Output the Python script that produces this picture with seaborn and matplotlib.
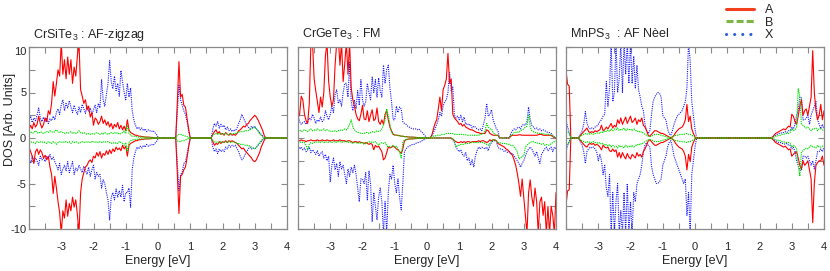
import numpy as np
import matplotlib
matplotlib.use('Agg')
import matplotlib.pyplot as plt
import seaborn as sns
from matplotlib.lines import Line2D

# energy grid (eV), 0.05 eV steps; each row below covers 1 eV (20 points), plus the last point at 4 eV
energy = np.linspace(-4, 4, 161)

panel_titles = ['CrSiTe$_3$ : AF-zigzag', 'CrGeTe$_3$ : FM', 'MnPS$_3$  : AF Nèel']
series_names = ['A', 'B', 'X']

xtick_pos = [-4, -3.5, -3, -2.5, -2, -1.5, -1, -0.5, 0, 0.5, 1, 1.5, 2, 2.5, 3, 3.5, 4]
xtick_lab = ['', '', '-3', '', '-2', '', '-1', '', '0', '', '1', '', '2', '', '3', '', '4']
ytick_pos = [-10, -7.5, -5, -2.5, 0, 2.5, 5, 7.5, 10]
ytick_lab = ['-10', '', '-5', '', '0', '', '5', '', '10']

# ---- CrSiTe3 ----
a1_up = [
    [0.9, 1.4, 1.0, 1.7, 1.2, 1.5, 2.4, 1.6, 1.1, 1.5, 2.2, 1.8, 3.0, 2.6, 3.8, 6.2, 4.6, 6.0, 7.5, 6.8],
    [10.5, 7.0, 8.6, 6.5, 8.9, 7.0, 8.6, 6.0, 7.8, 6.8, 9.0, 10.5, 5.3, 4.6, 3.8, 4.2, 3.1, 3.5, 2.3, 2.8],
    [1.4, 2.2, 2.0, 1.5, 1.8, 2.4, 1.6, 2.0, 1.4, 1.8, 1.2, 1.6, 1.0, 1.5, 1.2, 1.7, 1.0, 1.4, 0.9, 1.3],
    [0.8, 2.0, 0.9, 0.6, 0.5, 0.4, 0.3, 0.3, 0.2, 0.2, 0.15, 0.15, 0.1, 0.1, 0.1, 0.08, 0.06, 0.05, 0.04, 0.02],
    [0] * 12 + [4.0, 8.4, 4.5, 4.8, 3.6, 3.4, 2.2, 1.0],
    [0] * 14 + [0.4, 0.7, 0.9, 0.5, 0.7, 0.4],
    [0.5, 0.3, 0.6, 0.4, 0.3, 0.5, 0.3, 0.4, 0.3, 0.5, 0.8, 0.9, 1.1, 1.3, 1.2, 1.5, 1.6, 1.9, 2.1, 2.3],
    [2.5, 2.3, 2.0, 1.6, 1.2, 0.8, 0.2] + [0] * 13,
    [0],
]
a1_dn = [
    [-1.0, -1.5, -2.0, -2.8, -1.5, -1.2, -1.8, -1.3, -1.6, -2.2, -1.9, -2.4, -2.0, -3.2, -4.0, -6.1, -4.2, -5.5, -7.0, -8.2],
    [-10.5, -8.0, -8.8, -6.8, -8.6, -7.2, -8.0, -6.5, -7.6, -6.8, -8.4, -10.5, -6.0, -4.5, -3.8, -3.2, -3.0, -2.6, -2.4, -2.7],
    [-2.0, -2.2, -1.6, -2.0, -1.5, -2.2, -1.7, -1.9, -1.4, -1.8, -1.3, -1.7, -1.2, -1.5, -1.0, -1.3, -1.1, -1.4, -0.8, -1.2],
    [-0.9, -2.0, -0.8, -0.6, -0.5, -0.4, -0.3, -0.3, -0.2, -0.2, -0.15, -0.15, -0.1, -0.1, -0.1, -0.08, -0.06, -0.05, -0.04, -0.02],
    [0] * 12 + [-4.0, -8.3, -4.2, -4.0, -3.5, -3.2, -2.2, -1.0],
    [0] * 14 + [-0.4, -0.8, -0.6, -0.7, -0.4, -0.6],
    [-0.4, -0.5, -0.3, -0.5, -0.3, -0.4, -0.3, -0.4, -0.5, -0.6, -0.8, -1.0, -1.2, -1.1, -1.4, -1.6, -1.8, -2.0, -2.2, -2.5],
    [-2.6, -2.4, -2.0, -1.6, -1.0, -0.6, -0.2] + [0] * 13,
    [0],
]
b1_up = [
    [0.6, 0.7, 0.5, 0.6, 0.8, 0.6, 0.5, 0.7, 0.6, 0.5, 0.6, 0.7, 0.6, 0.8, 0.7, 0.6, 0.7, 0.9, 0.7, 0.6],
    [0.7, 0.6, 0.5, 0.6, 0.5, 0.6, 0.7, 0.5, 0.6, 0.5, 0.6, 0.8, 0.6, 0.5, 0.6, 0.5, 0.4, 0.5, 0.4, 0.5],
    [0.4, 0.5, 0.6, 0.5, 0.4, 0.5, 0.4, 0.6, 0.5, 0.4, 0.5, 0.6, 0.5, 0.6, 0.5, 0.6, 0.4, 0.5, 0.6, 0.8],
    [0.5, 1.4, 0.5, 0.3, 0.2, 0.2, 0.15, 0.15, 0.1, 0.1, 0.1, 0.1, 0.08, 0.08, 0.06, 0.06, 0.05, 0.04, 0.03, 0.02],
    [0] * 12 + [0.3, 0.4, 0.4, 0.3, 0.3, 0.2, 0.15, 0.05],
    [0] * 14 + [0.3, 0.4, 0.5, 0.4, 0.5, 0.4],
    [0.5, 0.4, 0.5, 0.4, 0.4, 0.5, 0.4, 0.5, 0.5, 0.6, 0.6, 0.7, 0.7, 0.7, 0.8, 0.8, 0.8, 0.9, 1.0, 1.1],
    [1.2, 1.0, 0.8, 0.5, 0.3, 0.1, 0.05] + [0] * 13,
    [0],
]
b1_dn = [
    [-0.4, -0.5, -0.4, -0.5, -0.6, -0.4, -0.5, -0.4, -0.5, -0.4, -0.5, -0.6, -0.4, -0.5, -0.6, -0.4, -0.5, -0.7, -0.5, -0.4],
    [-0.5, -0.4, -0.5, -0.4, -0.5, -0.4, -0.6, -0.4, -0.5, -0.4, -0.5, -0.6, -0.5, -0.4, -0.5, -0.4, -0.5, -0.4, -0.5, -0.4],
    [-0.4, -0.5, -0.4, -0.5, -0.4, -0.5, -0.4, -0.5, -0.4, -0.4, -0.5, -0.6, -0.5, -0.6, -0.5, -0.6, -0.4, -0.5, -0.6, -0.8],
    [-0.5, -1.5, -0.5, -0.3, -0.2, -0.2, -0.15, -0.15, -0.1, -0.1, -0.1, -0.1, -0.08, -0.08, -0.06, -0.06, -0.05, -0.04, -0.03, -0.02],
    [0] * 12 + [-0.3, -0.4, -0.4, -0.3, -0.3, -0.2, -0.15, -0.05],
    [0] * 14 + [-0.3, -0.4, -0.5, -0.4, -0.5, -0.4],
    [-0.5, -0.4, -0.5, -0.4, -0.4, -0.5, -0.4, -0.5, -0.5, -0.6, -0.6, -0.7, -0.7, -0.7, -0.8, -0.8, -0.8, -0.9, -1.0, -1.1],
    [-1.2, -1.0, -0.8, -0.5, -0.3, -0.1, -0.05] + [0] * 13,
    [0],
]
x1_up = [
    [2.0, 2.4, 1.7, 2.2, 1.9, 2.5, 3.3, 2.2, 1.8, 2.3, 1.8, 2.2, 1.6, 2.1, 1.9, 2.4, 2.0, 2.8, 3.2, 2.6],
    [3.6, 4.2, 3.0, 3.8, 3.3, 4.1, 3.4, 2.8, 3.6, 3.0, 2.6, 3.4, 2.8, 3.7, 3.2, 2.7, 3.5, 2.9, 3.3, 2.6],
    [3.1, 3.6, 2.8, 3.8, 3.3, 6.4, 4.2, 3.5, 4.8, 6.0, 8.5, 6.2, 5.4, 6.8, 5.2, 6.0, 4.6, 7.4, 6.2, 5.0],
    [4.2, 6.0, 4.5, 5.5, 3.0, 2.0, 1.4, 1.0, 1.2, 0.9, 1.1, 0.8, 1.0, 0.7, 0.9, 0.8, 0.7, 0.8, 0.6, 0.4],
    [0.1] + [0] * 11 + [3.0, 5.8, 4.2, 3.6, 3.0, 2.6, 1.8, 0.8],
    [0] * 14 + [1.0, 1.6, 1.3, 1.8, 1.1, 1.5],
    [1.2, 1.4, 0.9, 1.2, 0.8, 1.0, 0.7, 0.9, 0.8, 1.1, 1.6, 2.0, 2.6, 2.2, 1.8, 1.4, 1.2, 1.0, 1.3, 1.1],
    [1.3, 1.0, 0.8, 0.6, 0.4, 0.2, 0.05] + [0] * 13,
    [0],
]
x1_dn = [
    [-2.4, -2.8, -2.0, -2.6, -2.2, -2.5, -3.0, -2.0, -2.4, -2.2, -2.6, -2.0, -2.3, -1.8, -2.4, -2.1, -2.6, -3.0, -3.5, -2.8],
    [-4.0, -3.4, -3.0, -3.6, -2.6, -3.8, -3.2, -2.6, -4.0, -3.3, -3.6, -3.0, -3.4, -3.8, -3.1, -3.6, -4.0, -3.2, -4.2, -3.5],
    [-3.0, -4.5, -3.8, -4.2, -4.0, -5.5, -4.6, -5.0, -6.0, -6.8, -9.0, -6.5, -6.0, -6.8, -5.6, -6.5, -5.8, -6.5, -5.2, -7.0],
    [-6.0, -6.0, -5.5, -7.6, -3.5, -2.2, -1.5, -1.0, -1.2, -0.9, -1.1, -0.8, -1.0, -0.7, -0.9, -0.8, -0.7, -0.8, -0.6, -0.4],
    [-0.1] + [0] * 11 + [-3.0, -5.8, -4.0, -3.8, -2.8, -2.6, -1.8, -0.8],
    [0] * 14 + [-1.0, -1.5, -1.2, -1.7, -1.2, -1.5],
    [-1.3, -1.5, -1.0, -1.2, -0.8, -1.0, -0.8, -0.9, -0.8, -1.2, -1.5, -2.0, -2.4, -2.2, -1.8, -1.5, -1.2, -1.0, -1.2, -1.1],
    [-1.2, -1.0, -0.8, -0.6, -0.4, -0.2, -0.05] + [0] * 13,
    [0],
]

# ---- CrGeTe3 ----
a2_up = [
    [2.2, 2.6, 4.6, 4.2, 2.6, 1.9, 1.6, 3.8, 10.5, 10.5, 6.5, 5.2, 4.0, 2.8, 4.5, 3.4, 5.0, 9.0, 10.5, 6.2],
    [4.5, 3.5, 4.2, 8.0, 10.5, 11.0, 8.0, 10.5, 6.2, 8.2, 10.5, 7.0, 10.5, 5.5, 4.2, 3.5, 2.6, 2.1, 1.9, 2.6],
    [3.6, 2.1, 2.0, 3.0, 1.8, 2.5, 3.1, 1.9, 2.1, 3.3, 1.8, 1.5, 2.0, 1.5, 2.6, 3.0, 2.0, 1.2, 0.8, 0.4],
    [0.35, 0.3, 0.3, 0.25, 0.2, 0.2, 0.15, 0.15, 0.12, 0.1, 0.1, 0.1, 0.08, 0.06, 0.05, 0.05, 0.04, 0.03, 0.02, 0.01],
    [0, 0, 0, 0.3, 1.0, 1.6, 2.0, 3.2, 4.5, 3.0, 5.3, 5.8, 6.5, 9.3, 6.0, 6.5, 2.6, 2.2, 2.0, 1.8],
    [1.5, 1.6, 1.3, 1.5, 1.2, 1.1, 1.0, 0.9, 0.9, 0.8, 0.7, 0.6, 0.6, 0.5, 0.5, 0.5, 0.5, 0.9, 0.8, 0.5],
    [0.4, 0.3, 0.3, 0.3, 0.3, 0, 0, 0, 0, 0, 0, 0, 0.2, 0.3, 0.3, 0.3, 0.3, 0.35, 0.35, 0.3],
    [0.3, 0.3, 0.3, 0.3, 0.3, 0.3, 0.3, 0.3, 0.3, 0.35, 0.4, 0.4, 0.3, 0.3, 0.3, 0.3, 0.3, 0.3, 0.15, 0.05],
    [0],
]
a2_dn = [
    [-0.3, -0.3, -0.2, -0.3, -0.3, -0.4, -0.3, -0.3, -0.2, -0.3, -0.3, -0.3, -0.2, -0.3, -0.3, -0.2, -0.3, -0.3, -0.2, -0.3],
    [-0.3, -0.3, -0.2, -0.3, -0.3, -0.3, -0.2, -0.3, -0.3, -0.3, -0.4, -0.3, -0.3, -0.4, -0.5, -0.4, -0.4, -0.5, -0.4, -0.5],
    [-0.5, -0.6, -0.5, -0.6, -0.7, -0.6, -0.7, -1.3, -0.8, -1.0, -0.9, -1.2, -1.5, -2.4, -2.2, -1.6, -1.0, -1.1, -1.0, -0.9],
    [-1.0, -1.2, -1.3, -1.5, -1.7, -1.2, -0.3, -0.2, -0.15, -0.1, -0.1, -0.1, -0.08, -0.06, -0.05, -0.04, -0.03, -0.02, -0.01, 0],
    [0] * 16 + [-0.1, -0.3, -0.4, -0.5],
    [-0.5, -0.4, -0.5, -0.4, -0.5, -0.4, -0.4, -0.5, -0.4, -0.4, -0.4, -0.4, -0.3, -0.4, -0.3, -0.3, -0.4, -0.5, -0.4, -0.2],
    [-0.3, -0.2, -0.2, -0.3, -0.6, -0.7, -0.8, -0.9, -1.0, -1.2, -1.3, -1.5, -1.7, -1.9, -2.4, -3.0, -3.9, -5.0, -6.4, -4.5],
    [-6.5, -8.5, -10.5, -6.0, -4.6, -6.5, -7.5, -5.5, -7.0, -10.5, -7.0, -6.5, -8.5, -7.0, -10.5, -7.5, -10.5, -7.5, -8.5, -10.5],
    [-6.0],
]
b2_up = [
    [0.8, 0.9, 0.7, 0.8, 0.9, 0.8, 0.7, 0.9, 1.0, 0.8, 0.9, 0.8, 1.0, 0.9, 0.8, 0.9, 1.0, 0.8, 0.9, 0.8],
    [0.7, 0.8, 0.7, 0.8, 0.7, 0.8, 0.9, 0.8, 0.9, 1.0, 0.9, 1.1, 1.5, 2.0, 1.2, 0.9, 0.7, 0.6, 0.6, 0.5],
    [0.5, 0.5, 0.6, 0.6, 0.5, 0.6, 0.7, 0.6, 0.7, 0.8, 0.7, 0.8, 1.0, 1.4, 2.0, 3.2, 2.4, 1.5, 0.6, 0.4],
    [0.3, 0.3, 0.25, 0.25, 0.2, 0.2, 0.15, 0.15, 0.12, 0.1, 0.1, 0.1, 0.08, 0.06, 0.05, 0.05, 0.04, 0.03, 0.02, 0.01],
    [0, 0, 0, 0.1, 0.2, 0.2, 0.3, 0.3, 0.3, 0.4, 0.4, 0.4, 0.5, 0.5, 0.5, 0.5, 0.5, 0.4, 0.4, 0.4],
    [0.4, 0.4, 0.4, 0.35, 0.35, 0.3, 0.3, 0.3, 0.3, 0.3, 0.3, 0.3, 0.3, 0.4, 0.4, 0.5, 0.8, 1.6, 1.2, 1.0],
    [1.0, 0.6, 0.4, 0.3, 0.3, 0, 0, 0, 0, 0, 0, 0, 0.3, 0.4, 0.6, 0.6, 0.7, 0.6, 0.8, 0.9],
    [1.0, 1.2, 1.3, 2.6, 1.2, 0.8, 0.7, 0.6, 0.6, 0.5, 0.5, 0.5, 0.5, 0.4, 0.4, 0.4, 0.4, 0.3, 0.2, 0.1],
    [0],
]
b2_dn = [
    [-0.4, -0.5, -0.4, -0.5, -0.5, -0.8, -1.3, -0.7, -0.5, -0.6, -0.5, -0.4, -0.5, -0.4, -0.5, -0.4, -0.5, -0.5, -0.4, -0.5],
    [-0.4, -0.5, -0.4, -0.4, -0.5, -0.4, -0.4, -0.5, -0.4, -0.4, -0.4, -0.5, -0.4, -0.5, -0.6, -0.5, -0.5, -0.6, -0.5, -0.6],
    [-0.5, -0.7, -0.6, -0.5, -0.4, -0.5, -0.4, -0.5, -0.4, -0.6, -0.8, -0.6, -0.5, -0.6, -0.5, -0.8, -1.0, -0.9, -1.0, -0.8],
    [-1.0, -0.9, -1.2, -1.5, -2.2, -0.5, -0.2, -0.15, -0.12, -0.1, -0.1, -0.08, -0.06, -0.05, -0.05, -0.04, -0.03, -0.02, -0.01, 0],
    [0] * 16 + [-0.1, -0.3, -1.0, -0.8],
    [-0.8, -0.7, -0.7, -0.7, -0.6, -0.6, -0.6, -0.5, -0.5, -0.5, -0.5, -0.5, -0.5, -0.5, -0.5, -0.5, -0.6, -0.7, -0.8, -0.6],
    [-0.3, -0.2, -0.2, -0.3, -0.5, -0.5, -0.6, -0.6, -0.6, -0.6, -0.7, -0.7, -0.8, -0.8, -1.0, -1.2, -1.5, -2.3, -2.2, -2.0],
    [-2.0, -1.0, -0.8, -0.6, -0.5, -0.4, -0.4, -0.5, -0.5, -0.6, -0.6, -0.7, -0.6, -0.8, -0.7, -0.8, -0.8, -0.6, -0.5, -0.4],
    [-0.3],
]
x2_up = [
    [2.5, 1.8, 1.5, 1.7, 1.8, 1.5, 1.8, 2.2, 2.0, 2.6, 2.2, 1.6, 2.0, 1.8, 2.3, 1.8, 2.0, 3.0, 2.4, 2.0],
    [2.6, 3.5, 2.8, 4.8, 5.3, 3.8, 4.2, 3.5, 5.0, 6.0, 6.0, 4.5, 8.4, 4.0, 3.0, 4.2, 3.2, 5.2, 3.6, 6.4],
    [4.2, 3.5, 4.0, 6.0, 5.0, 4.2, 6.7, 5.0, 6.4, 4.5, 6.6, 5.2, 4.5, 8.0, 6.0, 7.5, 8.0, 5.5, 4.0, 2.0],
    [2.0, 3.5, 2.8, 3.4, 3.2, 1.8, 1.6, 1.5, 1.3, 1.2, 1.1, 1.0, 1.0, 1.0, 0.9, 1.0, 0.8, 0.6, 0.4, 0.2],
    [0, 0, 0, 0.3, 0.6, 1.0, 1.5, 2.0, 2.8, 2.4, 3.5, 4.0, 4.2, 5.0, 7.2, 5.2, 5.6, 2.5, 2.2, 2.4],
    [2.0, 2.5, 1.8, 2.3, 1.5, 1.6, 1.4, 1.5, 1.1, 1.3, 1.2, 1.0, 0.9, 1.0, 0.8, 1.5, 2.2, 3.8, 2.4, 2.6],
    [3.1, 2.0, 1.5, 1.0, 0.8, 0, 0, 0, 0, 0, 0, 0, 0.5, 0.8, 1.0, 0.9, 1.1, 1.2, 1.0, 1.4],
    [1.5, 1.4, 1.8, 3.4, 2.0, 1.4, 1.2, 1.0, 1.1, 0.9, 1.0, 0.8, 0.9, 0.8, 0.7, 0.6, 0.6, 0.5, 0.3, 0.1],
    [0],
]
x2_dn = [
    [-0.8, -1.2, -1.0, -1.3, -1.1, -1.5, -1.3, -1.0, -1.6, -1.3, -1.5, -1.8, -1.4, -2.0, -1.7, -1.5, -2.2, -1.8, -2.5, -2.0],
    [-4.8, -3.0, -2.2, -3.5, -2.8, -4.2, -2.6, -3.4, -3.0, -4.0, -5.0, -3.4, -4.2, -3.2, -3.8, -3.0, -4.0, -5.5, -7.0, -4.5],
    [-4.5, -5.0, -3.8, -6.8, -3.6, -5.0, -9.2, -6.0, -7.5, -9.0, -6.5, -5.5, -7.0, -10.5, -7.0, -10.5, -6.0, -4.0, -4.5, -3.0],
    [-5.0, -6.0, -4.5, -6.5, -7.9, -5.0, -1.5, -1.2, -1.0, -0.9, -0.8, -0.7, -0.7, -0.6, -0.5, -0.5, -0.4, -0.3, -0.2, -0.1],
    [0] * 16 + [-0.2, -0.5, -1.0, -1.3],
    [-1.5, -1.3, -1.8, -2.0, -1.6, -2.5, -2.2, -3.0, -2.4, -3.2, -2.0, -1.4, -1.0, -1.2, -1.0, -1.1, -1.2, -1.0, -1.4, -0.8],
    [-0.5, -0.3, -0.3, -0.4, -1.0, -1.2, -1.2, -1.3, -1.5, -1.4, -1.6, -1.5, -1.8, -1.7, -2.0, -2.2, -2.5, -2.8, -3.2, -2.8],
    [-2.5, -2.0, -1.5, -1.2, -1.0, -1.2, -1.6, -2.0, -1.5, -2.2, -2.8, -1.8, -1.5, -1.2, -1.0, -1.4, -1.2, -1.0, -1.5, -1.0],
    [-1.2],
]

# ---- MnPS3 ----
a3_up = [
    [7.4, 5.9, 5.7, 0, 0, 0, 0, 0, 0.05, 0.3, 0.5, 0.7, 0.9, 1.1, 0.7, 0.6, 0.7, 0.6, 0.8, 0.7],
    [0.8, 0.9, 1.4, 0.8, 0.9, 1.2, 1.0, 1.3, 1.6, 1.1, 1.4, 1.2, 2.0, 1.6, 2.2, 1.5, 1.9, 2.3, 1.6, 2.0],
    [2.4, 1.7, 1.9, 2.2, 1.5, 2.0, 1.8, 2.2, 1.4, 1.2, 0.8, 0.3, 0.2, 0.4, 0.6, 0.8, 0.8, 0.7, 0.6, 0.5],
    [0.5, 0.4, 0.3, 0.2, 0.1, 0.05, 0.1, 0.3, 0.6, 0.8, 1.0, 1.1, 1.2, 1.5, 2.0, 3.7, 1.8, 2.4, 1.0, 0.5],
    [0.1] + [0] * 19,
    [0] * 20,
    [0] * 8 + [0.1, 0.3, 0.5, 0.6, 0.7, 0.8, 0.9, 1.0, 0.9, 1.1, 1.3, 1.2],
    [2.6, 2.4, 1.8, 1.5, 2.4, 3.5, 4.2, 2.5, 3.0, 3.2, 2.5, 3.5, 4.5, 9.6, 5.0, 3.0, 2.0, 2.5, 3.7, 2.0],
    [3.0],
]
a3_dn = [
    [-7.4, -5.8, -5.7, 0, 0, 0, 0, 0, -0.05, -0.3, -0.5, -0.7, -0.9, -1.0, -0.7, -0.6, -0.7, -0.6, -0.8, -0.7],
    [-0.8, -1.0, -1.3, -0.8, -1.0, -1.1, -1.0, -1.4, -1.5, -1.2, -1.5, -1.3, -2.1, -1.6, -2.2, -1.6, -2.0, -2.3, -1.7, -2.1],
    [-2.3, -1.8, -2.0, -2.2, -1.6, -2.0, -1.8, -2.1, -1.5, -1.2, -0.8, -0.3, -0.2, -0.4, -0.6, -0.8, -0.8, -0.7, -0.6, -0.5],
    [-0.5, -0.4, -0.3, -0.2, -0.1, -0.05, -0.1, -0.3, -0.6, -0.8, -1.0, -1.1, -1.2, -1.5, -2.0, -3.5, -1.8, -2.6, -1.0, -0.5],
    [-0.1] + [0] * 19,
    [0] * 20,
    [0] * 8 + [-0.1, -0.3, -0.5, -0.6, -0.7, -0.8, -0.9, -1.0, -0.9, -1.1, -1.3, -1.2],
    [-2.0, -1.8, -1.6, -1.5, -2.2, -3.0, -3.4, -2.5, -3.0, -2.8, -2.5, -3.5, -4.5, -9.3, -5.0, -3.0, -2.7, -2.5, -2.5, -2.0],
    [-3.0],
]
b3_up = [
    [0.8, 0.7, 0.5, 0, 0, 0, 0, 0, 0.05, 0.2, 0.3, 0.4, 0.5, 0.4, 0.5, 0.4, 0.5, 0.4, 0.5, 0.5],
    [0.6, 0.5, 0.7, 0.6, 0.8, 0.7, 0.9, 0.7, 1.0, 0.8, 1.0, 0.9, 1.1, 0.8, 1.0, 0.9, 1.1, 0.8, 1.0, 0.9],
    [1.0, 0.8, 1.0, 0.9, 0.7, 0.8, 0.6, 0.7, 0.5, 0.4, 0.3, 0.2, 0.15, 0.2, 0.3, 0.4, 0.4, 0.4, 0.35, 0.3],
    [0.25, 0.2, 0.15, 0.1, 0.05, 0.05, 0.1, 0.2, 0.3, 0.3, 0.35, 0.4, 0.4, 0.4, 0.45, 0.5, 0.4, 0.4, 0.3, 0.2],
    [0.05] + [0] * 19,
    [0] * 20,
    [0] * 8 + [0.05, 0.1, 0.2, 0.2, 0.3, 0.3, 0.4, 0.4, 0.5, 0.5, 0.5, 0.6],
    [1.0, 0.8, 0.9, 1.2, 5.4, 4.6, 1.5, 1.4, 1.2, 1.1, 1.2, 1.0, 0.8, 1.0, 1.0, 1.1, 0.8, 1.0, 1.0, 0.9],
    [0.8],
]
b3_dn = [
    [-0.8, -0.7, -0.5, 0, 0, 0, 0, 0, -0.05, -0.2, -0.3, -0.4, -0.5, -0.4, -0.5, -0.4, -0.5, -0.4, -0.5, -0.5],
    [-0.6, -0.5, -0.7, -0.6, -0.8, -0.7, -0.9, -0.7, -1.0, -0.8, -1.0, -0.9, -1.1, -0.8, -1.0, -0.9, -1.1, -0.8, -1.0, -0.9],
    [-1.0, -0.8, -1.0, -0.9, -0.7, -0.8, -0.6, -0.7, -0.5, -0.4, -0.3, -0.2, -0.15, -0.2, -0.3, -0.4, -0.4, -0.4, -0.35, -0.3],
    [-0.25, -0.2, -0.15, -0.1, -0.05, -0.05, -0.1, -0.2, -0.3, -0.3, -0.35, -0.4, -0.4, -0.4, -0.45, -0.5, -0.4, -0.4, -0.3, -0.2],
    [-0.05] + [0] * 19,
    [0] * 20,
    [0] * 8 + [-0.05, -0.1, -0.2, -0.2, -0.3, -0.3, -0.4, -0.4, -0.5, -0.5, -0.5, -0.6],
    [-1.0, -0.8, -0.9, -1.2, -3.0, -4.2, -1.5, -1.4, -1.2, -1.1, -1.2, -1.0, -0.8, -1.0, -1.0, -1.1, -0.8, -1.0, -1.0, -0.9],
    [-0.8],
]
x3_up = [
    [2.0, 1.2, 0.6, 0, 0, 0, 0, 0, 0.1, 0.4, 0.8, 1.5, 2.9, 1.6, 1.2, 1.0, 1.1, 1.0, 1.2, 1.3],
    [1.5, 1.8, 2.0, 2.4, 2.6, 6.2, 3.5, 5.5, 10.5, 4.0, 5.0, 10.5, 5.0, 6.5, 10.5, 5.0, 10.5, 7.0, 10.5, 6.0],
    [10.5, 6.0, 9.0, 5.5, 8.0, 5.3, 4.5, 3.5, 3.0, 1.5, 0.8, 0.5, 0.8, 2.5, 4.0, 4.5, 4.8, 5.0, 4.9, 4.5],
    [2.5, 2.2, 2.0, 1.0, 0.5, 0.3, 0.8, 1.5, 2.0, 2.4, 2.6, 2.8, 3.0, 3.5, 4.0, 5.5, 10.5, 8.5, 4.0, 2.5],
    [1.0] + [0] * 19,
    [0] * 20,
    [0] * 8 + [0.1, 0.2, 0.3, 0.4, 0.5, 0.5, 0.6, 0.6, 0.7, 0.6, 0.8, 0.8],
    [1.2, 1.0, 1.5, 2.5, 3.0, 4.5, 4.4, 2.0, 2.0, 2.2, 2.5, 1.5, 2.5, 3.0, 3.5, 4.0, 2.0, 1.5, 1.0, 1.5],
    [1.0],
]
x3_dn = [
    [-1.5, -0.8, -0.4, 0, 0, 0, 0, 0, -0.1, -0.4, -0.8, -1.5, -2.8, -1.5, -1.2, -1.0, -1.1, -1.0, -1.2, -1.5],
    [-2.5, -1.8, -2.5, -4.0, -3.0, -5.5, -6.4, -4.0, -10.5, -6.0, -10.5, -7.0, -5.0, -10.5, -8.0, -10.5, -6.0, -10.5, -5.0, -10.5],
    [-7.0, -10.5, -6.0, -7.0, -5.0, -4.5, -4.0, -3.0, -1.5, -0.8, -0.5, -0.8, -1.0, -3.0, -4.0, -4.5, -5.0, -5.0, -4.8, -4.5],
    [-3.0, -2.5, -2.0, -1.0, -0.5, -0.3, -1.0, -2.0, -2.5, -3.0, -3.5, -4.0, -4.5, -5.0, -4.5, -8.5, -6.0, -10.5, -4.0, -2.5],
    [-1.0] + [0] * 19,
    [0] * 20,
    [0] * 8 + [-0.1, -0.2, -0.3, -0.4, -0.5, -0.5, -0.6, -0.6, -0.7, -0.6, -0.8, -0.8],
    [-1.2, -1.0, -1.5, -2.5, -3.0, -3.5, -3.6, -2.0, -2.0, -2.2, -2.0, -2.5, -3.0, -2.5, -3.4, -2.5, -1.5, -1.5, -1.2, -1.5],
    [-1.0],
]


def flat(rows):
    vals = [v for r in rows for v in r]
    assert len(vals) == len(energy), len(vals)
    return np.array(vals, dtype=float)


panels = [
    {'A': (a1_up, a1_dn), 'B': (b1_up, b1_dn), 'X': (x1_up, x1_dn)},
    {'A': (a2_up, a2_dn), 'B': (b2_up, b2_dn), 'X': (x2_up, x2_dn)},
    {'A': (a3_up, a3_dn), 'B': (b3_up, b3_dn), 'X': (x3_up, x3_dn)},
]

line_color = {'A': '#ff0000', 'B': '#00e000', 'X': '#1a1aff'}
line_style = {'A': '-', 'B': (0, (1.2, 0.8)), 'X': (0, (1, 1))}
draw_order = ['X', 'A', 'B']

sns.set_style('ticks')
plt.rcParams['font.family'] = ['Liberation Sans', 'DejaVu Sans']
plt.rcParams['mathtext.default'] = 'regular'

fig = plt.figure(figsize=(8.3, 2.71), dpi=100)
lefts = [29, 298, 566]
frame = '#8a8a8a'

for i, (left, data, title) in enumerate(zip(lefts, panels, panel_titles)):
    ax = fig.add_axes([left / 830, 42 / 271, 258 / 830, 182 / 271])
    for name in draw_order:
        up, dn = data[name]
        for vals in (up, dn):
            sns.lineplot(x=energy, y=flat(vals), ax=ax, color=line_color[name],
                         lw=0.8, linestyle=line_style[name], estimator=None,
                         legend=False)
    ax.set_xlim(-4, 4)
    ax.set_ylim(-10, 10)
    ax.set_xticks(xtick_pos)
    ax.set_xticklabels(xtick_lab)
    ax.set_yticks(ytick_pos)
    if i == 0:
        ax.set_yticklabels(ytick_lab)
        ax.get_yticklabels()[-1].set_va('top')
        ax.set_ylabel('DOS [Arb. Units]', fontsize=9)
        ax.yaxis.set_label_coords(-0.052, 0.6)
    else:
        ax.set_yticklabels([])
        ax.set_ylabel('')
    ax.set_xlabel('Energy [eV]', fontsize=9, labelpad=2.5)
    ax.tick_params(axis='both', direction='in', length=4, width=0.8, color=frame,
                   top=True, right=True, labelsize=8)
    ax.tick_params(axis='x', pad=9)
    ax.tick_params(axis='y', pad=2)
    for sp in ax.spines.values():
        sp.set_color(frame)
        sp.set_linewidth(0.9)
    ax.text(0.016, 1.048, title, transform=ax.transAxes, fontsize=9,
            ha='left', va='baseline')

handles = [
    Line2D([], [], color='#f2401f', lw=2.2, ls='-'),
    Line2D([], [], color='#7bb843', lw=2.2, ls=(0, (2.3, 1.0))),
    Line2D([], [], color='#2d60d8', lw=2.2, ls=(0, (0.05, 2.6)), dash_capstyle='round'),
]
fig.legend(handles, series_names, loc='upper left', bbox_to_anchor=(726 / 830, 1 - 4 / 271),
           frameon=False, fontsize=9, handlelength=2.2, handletextpad=0.9,
           labelspacing=0.05, borderpad=0, borderaxespad=0)

fig.savefig('out.png', dpi=100)
